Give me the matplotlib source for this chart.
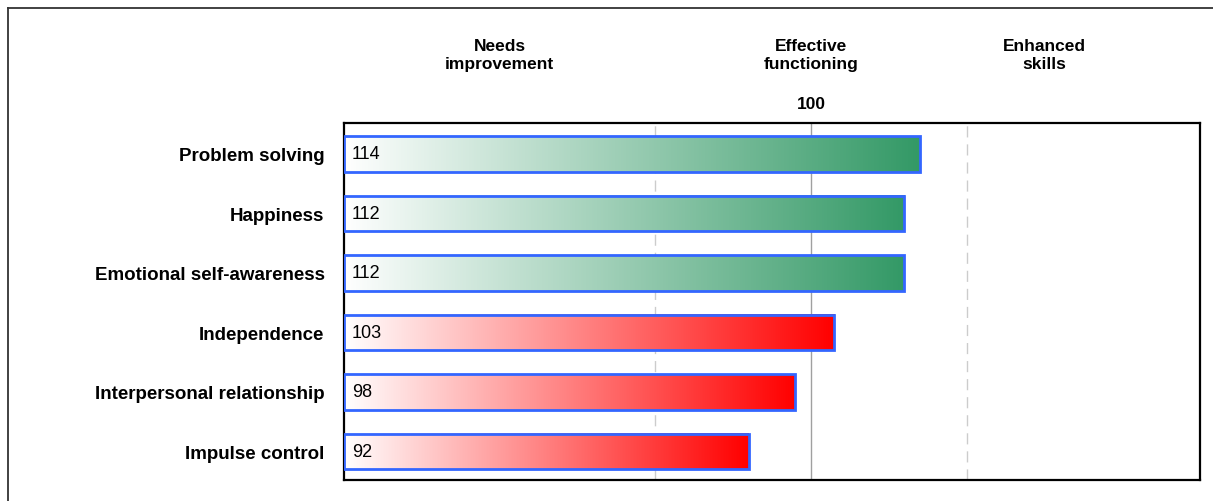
import matplotlib

matplotlib.use("Agg")
import matplotlib.pyplot as plt
import numpy as np
from matplotlib.colors import LinearSegmentedColormap
from matplotlib.lines import Line2D
from matplotlib.patches import Rectangle

# data
categories = ["Problem solving", "Happiness", "Emotional self-awareness",
              "Independence", "Interpersonal relationship", "Impulse control"]
scores = [114, 112, 112, 103, 98, 92]
bar_colors = ["#339966", "#339966", "#339966", "#FF0000", "#FF0000", "#FF0000"]
bands = ["Needs\nimprovement", "Effective\nfunctioning", "Enhanced\nskills"]
band_pos = [60, 100, 130]
x_min, x_max = 40, 150
grid_dashed = [80, 120]
grid_mid = 100

plt.rcParams["font.family"] = ["Liberation Sans", "DejaVu Sans"]

fig = plt.figure(figsize=(12.13, 5.02), dpi=100)
ax = fig.add_axes([344 / 1213, 1 - 481 / 502, (1200 - 344) / 1213, (481 - 124) / 502])

for g in grid_dashed:
    ax.axvline(g, color="#cccccc", lw=1, ls=(0, (8, 5)), zorder=0)
ax.axvline(grid_mid, color="#a0a0a0", lw=1, zorder=0)

h = 0.6
grad = np.linspace(0, 1, 256).reshape(1, -1)
for i, (v, c) in enumerate(zip(scores, bar_colors)):
    cmap = LinearSegmentedColormap.from_list("g", ["#ffffff", c])
    ax.imshow(grad, cmap=cmap, aspect="auto", extent=[x_min, v, i + h / 2, i - h / 2],
              zorder=2, interpolation="bilinear")
    ax.add_patch(Rectangle((x_min, i - h / 2), v - x_min, h, fill=False,
                           ec="#3366ff", lw=2, zorder=3))
    ax.text(x_min + 1.0, i, str(v), va="center", ha="left", fontsize=13, zorder=4)

ax.set_xlim(x_min, x_max)
ax.set_ylim(len(categories) - 0.52, -0.52)
ax.set_xticks([])
ax.set_yticks(range(len(categories)))
ax.set_yticklabels(categories, fontsize=13.5, fontweight="bold")
ax.tick_params(axis="y", length=0, pad=14)
for s in ax.spines.values():
    s.set_linewidth(1.6)
    s.set_color("black")

for b, p in zip(bands, band_pos):
    ax.text(p, -1.67, b, ha="center", va="center", fontsize=12.5, fontweight="bold",
            linespacing=1.3)
ax.text(grid_mid, -0.85, str(grid_mid), ha="center", va="center", fontsize=12.5,
        fontweight="bold")

# outer frame (top and left edges only visible)
fig.add_artist(Line2D([8 / 1213, 1], [1 - 9 / 502, 1 - 9 / 502], color="#333333", lw=1.3))
fig.add_artist(Line2D([8 / 1213, 8 / 1213], [0, 1 - 9 / 502], color="#333333", lw=1.3))

fig.savefig("out.png", dpi=100)
